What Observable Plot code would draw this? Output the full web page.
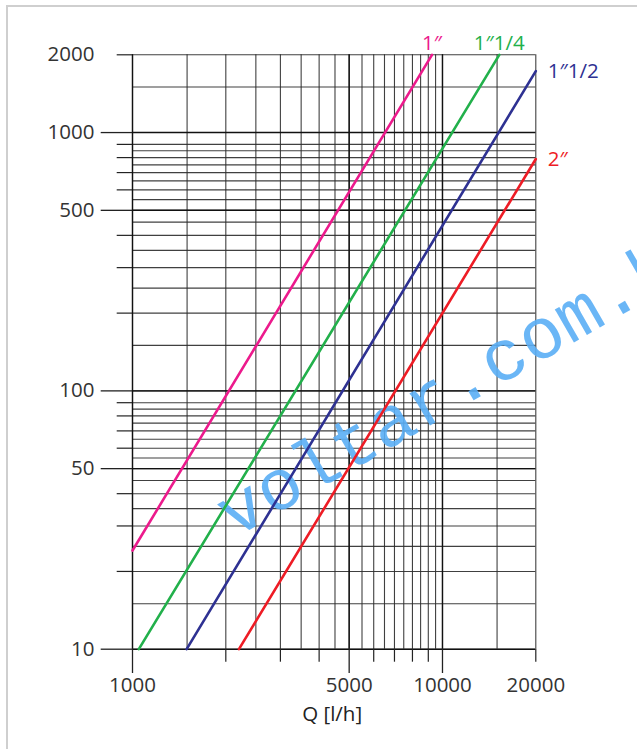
<!DOCTYPE html>
<html>
<head>
<meta charset="utf-8">
<script src="https://cdn.jsdelivr.net/npm/d3@7"></script>
<script src="https://cdn.jsdelivr.net/npm/@observablehq/plot@0.6"></script>
<style>
  html, body { margin: 0; padding: 0; background: #fff; overflow: hidden; }
  #wrap { position: relative; width: 637px; height: 749px; overflow: hidden; }
  #border { position: absolute; left: 6px; top: 5px; width: 800px; height: 900px; border: 2px solid #cfcfcf; box-sizing: border-box; }
  #chart { position: absolute; left: 0; top: 0; }
</style>
</head>
<body>
<div id="wrap"><div id="border"></div><div id="chart"></div></div>
<script>
// ---- data ----
const seriesNames = ["1″", "1″1/4", "1″1/2", "2″"];
const seriesColors = ["#ec1a8c", "#22b04b", "#2e3192", "#ee1c25"];
const qStart = [1000, 1048, 1495, 2205];
const dpStart = [24.1, 10, 10, 10];
const qEnd = [9250, 15250, 20000, 20000];
const dpEnd = [2000, 2000, 1730, 790];

const xDomain = [1000, 20000];
const yDomain = [10, 2000];

const xGridValues = [1000, 1500, 2000, 2500, 3000, 3500, 4000, 4500, 5000, 5500, 6000, 6500, 7000, 7500, 8000, 8500, 9000, 9500, 10000, 15000, 20000];
const yGridValues = [10, 15, 20, 25, 30, 35, 40, 45, 50, 55, 60, 65, 70, 75, 80, 85, 90,
  100, 150, 200, 250, 300, 350, 400, 450, 500, 550, 600, 650, 700, 750, 800, 850, 900, 1000, 1500, 2000];

const xLongTicks = [1000, 5000, 10000];
const xShortTicks = [2000, 3000, 4000, 6000, 7000, 8000, 9000, 20000];
const xTickLabels = [1000, 5000, 10000, 20000];
const yLongTicks = [10, 50, 100, 500, 1000];
const yShortLabeled = [2000];
const yShortTicks = [20, 30, 40, 60, 70, 80, 90, 200, 300, 400, 600, 700, 800, 900];

const xTitle = "Q [l/h]";
const watermarkText = "voltar.com.br";
const watermarkQ = 1950;
const watermarkDp = 32;

// ---- build tables ----
const lineRows = [];
seriesNames.forEach((name, i) => {
  lineRows.push({name, Q: qStart[i], dp: dpStart[i]});
  lineRows.push({name, Q: qEnd[i], dp: dpEnd[i]});
});
const endRows = seriesNames.map((name, i) => ({name, Q: qEnd[i], dp: dpEnd[i]}));
const topLabels = endRows.filter(d => d.dp >= 2000);
const sideLabels = endRows.filter(d => d.dp < 2000);

const fmt = d => String(Math.round(d));
const font = "'Open Sans', 'Noto Sans', sans-serif";
const tickStroke = "#222";
const yBottom = () => yDomain[0];

const yLabeledAxes = yLongTicks.map(v =>
  Plot.axisY([v], {tickSize: 31.3, tickPadding: 6.7, tickFormat: fmt, label: null, stroke: tickStroke, strokeWidth: 1.3, fill: "#333"}));

const chart = Plot.plot({
  width: 637,
  height: 749,
  marginLeft: 132,
  marginRight: 101.7,
  marginTop: 54.3,
  marginBottom: 100.3,
  style: {fontFamily: font, fontSize: "20.5px", color: "#333", background: "transparent", overflow: "visible"},
  x: {type: "log", domain: xDomain, axis: null},
  y: {type: "log", domain: yDomain},
  color: {domain: seriesNames, range: seriesColors},
  marks: [
    Plot.gridX(xGridValues, {stroke: "#2b2b2b", strokeOpacity: 0.9, strokeWidth: 1.1}),
    Plot.gridY(yGridValues, {stroke: "#2b2b2b", strokeOpacity: 0.9, strokeWidth: 1.1}),
    Plot.gridX(xLongTicks, {stroke: "#111", strokeOpacity: 1, strokeWidth: 1.4}),
    Plot.gridY(yLongTicks, {stroke: "#111", strokeOpacity: 1, strokeWidth: 1.4}),
    // x-axis ticks (long and short) and labels
    Plot.ruleX(xLongTicks, {x: d => d, y1: yBottom, y2: yBottom, insetBottom: -24.3, stroke: tickStroke, strokeWidth: 1.3}),
    Plot.ruleX(xShortTicks, {x: d => d, y1: yBottom, y2: yBottom, insetBottom: -13, stroke: tickStroke, strokeWidth: 1.2}),
    Plot.text(xTickLabels, {x: d => d, y: yBottom, text: fmt, dy: 28.7, lineAnchor: "top", fill: "#333"}),
    // y-axis ticks and labels
    ...yLabeledAxes,
    Plot.axisY(yShortLabeled, {tickSize: 15.3, tickPadding: 22.7, tickFormat: fmt, label: null, stroke: tickStroke, strokeWidth: 1.2, fill: "#333"}),
    Plot.axisY(yShortTicks, {tickSize: 15.3, tickFormat: () => "", label: null, stroke: tickStroke, strokeWidth: 1.2}),
    Plot.text([xTitle], {frameAnchor: "bottom", dx: -2, dy: 71.6, fill: "#222", fontSize: 20.5}),
    Plot.text([watermarkText], {x: () => watermarkQ, y: () => watermarkDp, text: d => d, rotate: -30, textAnchor: "start",
      fontFamily: "'Liberation Mono', monospace", fontSize: 72, fill: "#5aaef5", fillOpacity: 0.9}),
    Plot.line(lineRows, {x: "Q", y: "dp", z: "name", stroke: "name", strokeWidth: 2.6}),
    Plot.text(topLabels, {x: "Q", y: "dp", text: "name", fill: "name", dy: -11, textAnchor: "middle", fontSize: 20.5}),
    Plot.text(sideLabels, {x: "Q", y: "dp", text: "name", fill: "name", dx: 12, dy: 0, textAnchor: "start", fontSize: 20.5})
  ]
});

document.getElementById("chart").appendChild(chart);
</script>
</body>
</html>
